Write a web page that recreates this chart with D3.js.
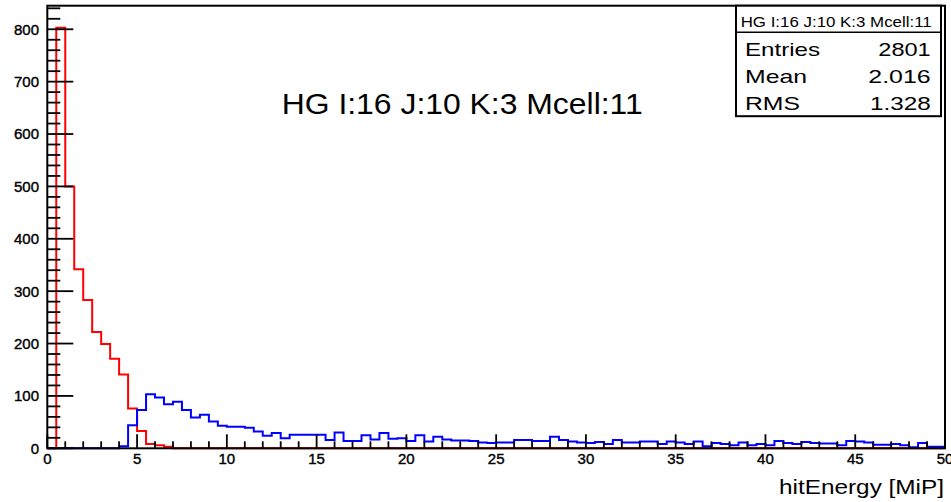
<!DOCTYPE html>
<html>
<head>
<meta charset="utf-8">
<script src="https://cdn.jsdelivr.net/npm/d3@7"></script>
<style>
  body { margin: 0; background: #fff; }
  text { font-family: "Liberation Sans", Arial, sans-serif; fill: #000; }
</style>
</head>
<body>
<div id="wrapper"></div>
<script>
// histogram: 100 bins of 0.5 MiP from 0 to 50
const xRange = [0, 50];
const binWidth = 0.5;

const redCounts = [
  0, 803, 500, 342, 283, 222, 199, 171, 141, 76,
  33, 8, 6, 3, 0, 0, 0, 0, 0, 0,
  0, 0, 0, 0, 0, 0, 0, 0, 0, 0,
  0, 0, 0, 0, 0, 0, 0, 0, 0, 0,
  0, 0, 0, 0, 0, 0, 0, 0, 0, 0,
  0, 0, 0, 0, 0, 0, 0, 0, 0, 0,
  0, 0, 0, 0, 0, 0, 0, 0, 0, 0,
  0, 0, 0, 0, 0, 0, 0, 0, 0, 0,
  0, 0, 0, 0, 0, 0, 0, 0, 0, 0,
  0, 0, 0, 0, 0, 0, 0, 0, 0, 0,
];

const blueCounts = [
  0, 0, 0, 0, 0, 0, 0, 0, 4, 44,
  73, 103, 97, 84, 89, 73, 59, 64, 51, 43,
  41, 41, 39, 32, 24, 29, 19, 26, 26, 26,
  26, 16, 30, 14, 14, 25, 17, 29, 18, 19,
  14, 25, 13, 22, 17, 15, 15, 14, 11, 10,
  11, 11, 16, 16, 14, 14, 22, 16, 13, 11,
  10, 12, 8, 16, 11, 11, 13, 13, 8, 13,
  11, 8, 13, 4, 10, 8, 6, 11, 6, 8,
  6, 14, 10, 8, 12, 10, 9, 9, 6, 14,
  13, 11, 7, 7, 8, 6, 2, 10, 3, 3,
];

const yTicks = [0, 100, 200, 300, 400, 500, 600, 700, 800];
const xTicks = [0, 5, 10, 15, 20, 25, 30, 35, 40, 45, 50];

const title = "HG I:16 J:10 K:3 Mcell:11";
const statsLabels = ["Entries", "Mean", "RMS"];
const statsValues = ["2801", "2.016", "1.328"];
const xTitle = "hitEnergy [MiP]";

function buildChart() {
  const dimensions = { width: 951, height: 502 };
  const frame = { left: 47.3, right: 945, top: 5.7, bottom: 448.3 };

  const svg = d3
    .select("#wrapper")
    .append("svg")
    .attr("width", dimensions.width)
    .attr("height", dimensions.height);

  const x = d3.scaleLinear().domain(xRange).range([frame.left, frame.right]);
  const y = d3.scaleLinear().domain([0, 845]).range([frame.bottom, frame.top]);

  // title
  svg
    .append("text")
    .attr("x", 281.7)
    .attr("y", 114.3)
    .attr("font-size", 29)
    .attr("textLength", 361)
    .attr("lengthAdjust", "spacingAndGlyphs")
    .text(title);

  // histograms
  const line = d3
    .line()
    .x((d) => x(d[0]))
    .y((d) => y(d[1]))
    .curve(d3.curveStepAfter);

  function outline(counts) {
    const pts = counts.map((c, i) => [i * binWidth, c]);
    pts.push([xRange[1], counts[counts.length - 1]]);
    pts.push([xRange[1], 0]);
    return pts;
  }

  svg
    .append("path")
    .attr("d", line(outline(redCounts)))
    .attr("fill", "none")
    .attr("stroke", "#ff0000")
    .attr("stroke-width", 2);

  svg
    .append("path")
    .attr("d", line(outline(blueCounts)))
    .attr("fill", "none")
    .attr("stroke", "#0000ff")
    .attr("stroke-width", 2);

  // y axis ticks (major 100, minor 20)
  const yMinor = d3.range(0, 841, 20).filter((v) => v % 100 !== 0);
  svg
    .selectAll(".y-minor")
    .data(yMinor)
    .enter()
    .append("line")
    .attr("x1", frame.left)
    .attr("x2", frame.left + 13)
    .attr("y1", (d) => y(d))
    .attr("y2", (d) => y(d))
    .attr("stroke", "#000")
    .attr("stroke-width", 1.8);

  svg
    .selectAll(".y-major")
    .data(yTicks)
    .enter()
    .append("line")
    .attr("x1", frame.left)
    .attr("x2", frame.left + 26)
    .attr("y1", (d) => y(d))
    .attr("y2", (d) => y(d))
    .attr("stroke", "#000")
    .attr("stroke-width", 1.8);

  svg
    .selectAll(".y-label")
    .data(yTicks)
    .enter()
    .append("text")
    .attr("x", 39)
    .attr("y", (d) => y(d))
    .attr("dy", "0.36em")
    .attr("text-anchor", "end")
    .attr("font-size", 15)
    .attr("stroke", "#000")
    .attr("stroke-width", 0.4)
    .text((d) => d);

  // x axis ticks (major 5, minor 1)
  const xMinor = d3.range(1, 50, 1).filter((v) => v % 5 !== 0);
  svg
    .selectAll(".x-minor")
    .data(xMinor)
    .enter()
    .append("line")
    .attr("x1", (d) => x(d))
    .attr("x2", (d) => x(d))
    .attr("y1", frame.bottom)
    .attr("y2", frame.bottom - 7)
    .attr("stroke", "#000")
    .attr("stroke-width", 1.8);

  svg
    .selectAll(".x-major")
    .data(xTicks)
    .enter()
    .append("line")
    .attr("x1", (d) => x(d))
    .attr("x2", (d) => x(d))
    .attr("y1", frame.bottom)
    .attr("y2", frame.bottom - 14)
    .attr("stroke", "#000")
    .attr("stroke-width", 1.8);

  svg
    .selectAll(".x-label")
    .data(xTicks)
    .enter()
    .append("text")
    .attr("x", (d) => x(d))
    .attr("y", 464)
    .attr("text-anchor", "middle")
    .attr("font-size", 15)
    .attr("stroke", "#000")
    .attr("stroke-width", 0.4)
    .text((d) => d);

  // frame
  svg
    .append("rect")
    .attr("x", frame.left)
    .attr("y", frame.top)
    .attr("width", frame.right - frame.left)
    .attr("height", frame.bottom - frame.top)
    .attr("fill", "none")
    .attr("stroke", "#000")
    .attr("stroke-width", 2);

  // x axis title
  svg
    .append("text")
    .attr("x", 779)
    .attr("y", 494)
    .attr("font-size", 20.5)
    .attr("textLength", 165)
    .attr("lengthAdjust", "spacingAndGlyphs")
    .text(xTitle);

  // stats box
  const box = { x: 736, y: 5.7, w: 205, h: 110.5, sep: 32.3 };
  svg
    .append("rect")
    .attr("x", box.x)
    .attr("y", box.y)
    .attr("width", box.w)
    .attr("height", box.h)
    .attr("fill", "#fff")
    .attr("stroke", "#000")
    .attr("stroke-width", 2);

  svg
    .append("line")
    .attr("x1", box.x)
    .attr("x2", box.x + box.w)
    .attr("y1", box.sep)
    .attr("y2", box.sep)
    .attr("stroke", "#000")
    .attr("stroke-width", 1.5);

  svg
    .append("text")
    .attr("x", 740.7)
    .attr("y", 26.5)
    .attr("font-size", 14)
    .attr("textLength", 191)
    .attr("lengthAdjust", "spacingAndGlyphs")
    .text(title);

  const rowY = [55.5, 83.3, 110];
  const labelW = [75, 62, 55];
  const valueW = [52.4, 62.4, 60.7];

  svg
    .selectAll(".stat-label")
    .data(statsLabels)
    .enter()
    .append("text")
    .attr("x", 745)
    .attr("y", (d, i) => rowY[i])
    .attr("font-size", 19)
    .attr("textLength", (d, i) => labelW[i])
    .attr("lengthAdjust", "spacingAndGlyphs")
    .text((d) => d);

  svg
    .selectAll(".stat-value")
    .data(statsValues)
    .enter()
    .append("text")
    .attr("x", (d, i) => 930.7 - valueW[i])
    .attr("y", (d, i) => rowY[i])
    .attr("font-size", 19)
    .attr("textLength", (d, i) => valueW[i])
    .attr("lengthAdjust", "spacingAndGlyphs")
    .text((d) => d);
}

buildChart();
</script>
</body>
</html>
